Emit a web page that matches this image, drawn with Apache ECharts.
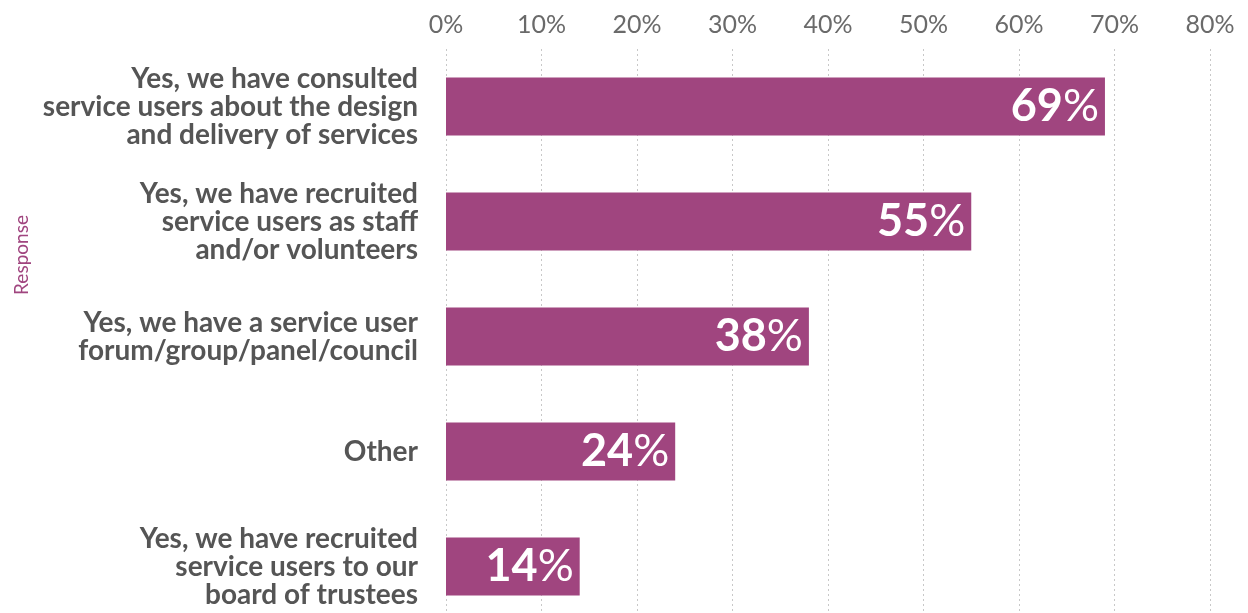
<!DOCTYPE html>
<html>
<head>
<meta charset="utf-8">
<script src="https://cdn.jsdelivr.net/npm/echarts@6/dist/echarts.min.js"></script>
<style>
  html, body { margin: 0; padding: 0; background: #ffffff; }
  #chart { width: 1248px; height: 613px; }
</style>
</head>
<body>
<div id="chart"></div>
<script>
// Survey responses: how organisations involve service users
const categories = [
  'Yes, we have consulted\nservice users about the design\nand delivery of services',
  'Yes, we have recruited\nservice users as staff\nand/or volunteers',
  'Yes, we have a service user\nforum/group/panel/council',
  'Other',
  'Yes, we have recruited\nservice users to our\nboard of trustees'
];
const shares = [69, 55, 38, 24, 14];
const axisTicks = [0, 10, 20, 30, 40, 50, 60, 70, 80];
const axisName = 'Response';

const PURPLE = '#a0457f';
const FONT = "Lato, 'Open Sans', sans-serif";

const chart = echarts.init(document.getElementById('chart'));
chart.setOption({
  animation: false,
  backgroundColor: '#ffffff',
  grid: {
    left: 446, right: 38, top: 49, bottom: -11,
    containLabel: false,
    outerBoundsMode: 'none'
  },
  xAxis: {
    type: 'value',
    position: 'top',
    min: axisTicks[0],
    max: axisTicks[axisTicks.length - 1],
    interval: axisTicks[1] - axisTicks[0],
    axisLine: { show: false },
    axisTick: { show: false },
    axisLabel: {
      margin: 12,
      color: '#6a6a6a',
      fontFamily: FONT,
      fontSize: 25,
      formatter: v => v + '%'
    },
    splitLine: { show: true, lineStyle: { color: '#c8c8c8', type: [2, 3], width: 1 } }
  },
  yAxis: {
    type: 'category',
    inverse: true,
    data: categories,
    axisLine: { show: false },
    axisTick: { show: false },
    axisLabel: {
      margin: 28,
      color: '#555555',
      fontFamily: FONT,
      fontWeight: 'bold',
      fontSize: 28,
      lineHeight: 28,
      align: 'right'
    }
  },
  graphic: [{
    type: 'text',
    x: 22,
    y: 255,
    rotation: Math.PI / 2,
    style: {
      text: axisName,
      fill: PURPLE,
      font: '19px ' + FONT,
      align: 'center',
      verticalAlign: 'middle'
    }
  }],
  series: [{
    type: 'bar',
    data: shares,
    barWidth: 58,
    itemStyle: { color: PURPLE },
    label: {
      show: true,
      position: 'insideRight',
      distance: 6,
      formatter: p => '{n|' + p.value + '}{p|%}',
      rich: {
        n: { color: '#ffffff', fontFamily: FONT, fontWeight: 'bold', fontSize: 45 },
        p: { color: '#ffffff', fontFamily: FONT, fontWeight: 'normal', fontSize: 45 }
      }
    }
  }]
});
</script>
</body>
</html>
